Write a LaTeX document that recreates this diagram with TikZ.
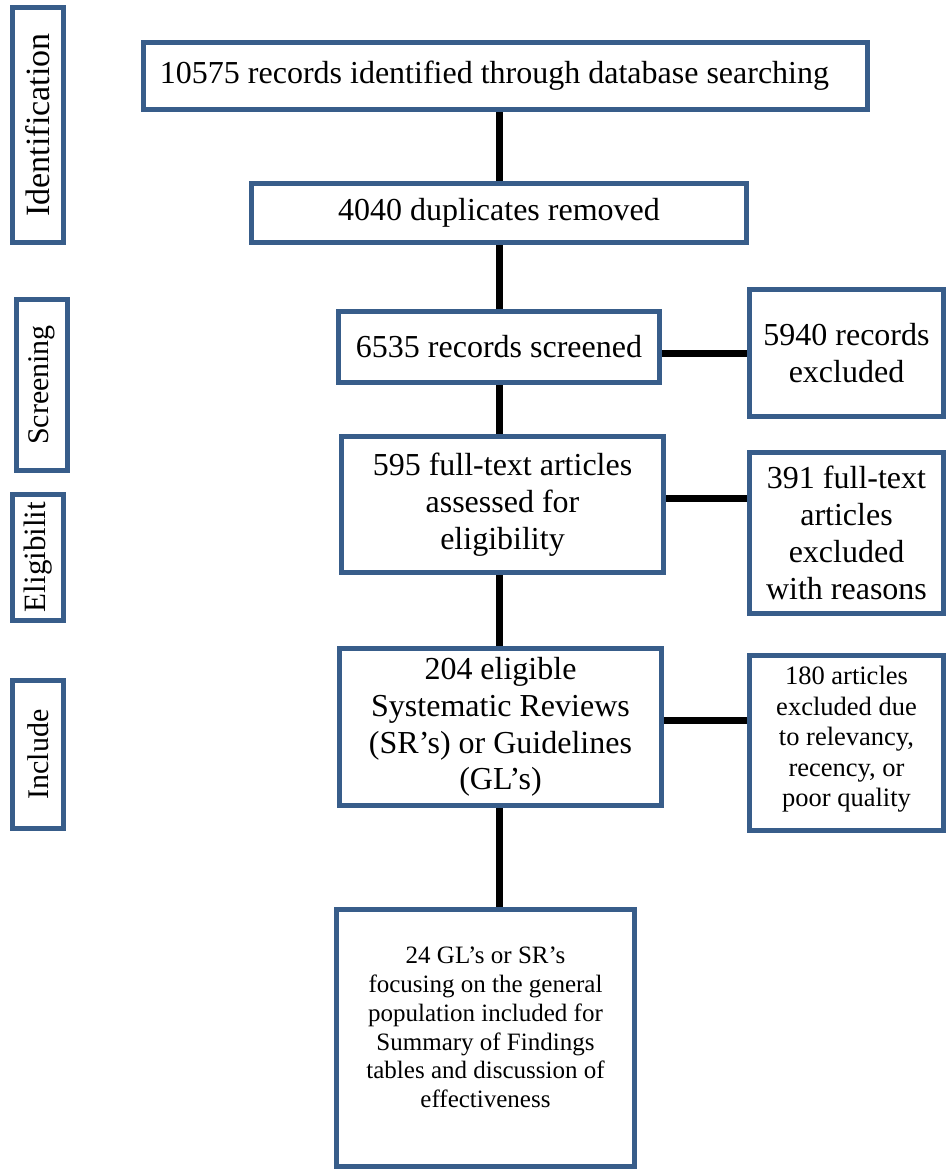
\documentclass[tikz,border=0pt]{standalone}
\usepackage{fontspec}
\setmainfont{Liberation Serif}
\usetikzlibrary{calc}

\definecolor{frameblue}{RGB}{56,93,138}

\begin{document}
\begin{tikzpicture}[x=1pt,y=-1pt,
    box/.style={draw=frameblue,line width=5pt,fill=white,inner sep=0pt,
      align=center,font=\fontsize{32}{36.8}\selectfont},
    stage/.style={box,font=\fontsize{30}{34.5}\selectfont},
    link/.style={draw=black,line width=7pt}]
  %\draw (0, 0) grid (946, 1169);
  \useasboundingbox (0,0) rectangle (946,1169);

  % stages on the left
  \node[stage,minimum width=51,minimum height=235,font=\fontsize{34}{39}\selectfont]
    (ident) at (38,125) {\rotatebox{90}{Identification}};
  \node[stage,minimum width=51,minimum height=171] (screen) at (42,385) {\rotatebox{90}{Screening}};
  \node[stage,minimum width=51,minimum height=126,font=\fontsize{31}{35}\selectfont]
    (elig) at (38,557) {\rotatebox{90}{Eligibilit}};
  \node[stage,minimum width=51,minimum height=148] (incl) at (38,754.5) {\rotatebox{90}{Include}};

  % main column
  \node[box,minimum width=724,minimum height=67] (rec) at (505.5,76)
    {10575 records identified through database searching\hspace{22pt}};
  \node[box,minimum width=495,minimum height=59] (dup) at (499,213) {4040 duplicates removed};
  \node[box,minimum width=321,minimum height=71] (scr) at (499,347) {6535 records screened};
  \node[box,minimum width=322,minimum height=136] (full) at (502.5,504.5)
    {595 full-text articles\\assessed for\\eligibility};
  \node[box,minimum width=322,minimum height=157] (elg) at (500.5,727)
    {204 eligible\\Systematic Reviews\\(SR’s) or Guidelines\\(GL’s)};
  \node[box,minimum width=298,minimum height=257,font=\fontsize{25}{28.75}\selectfont]
    (fin) at (485.5,1038)
    {24 GL’s or SR’s\\focusing on the general\\population included for\\Summary of Findings\\tables and discussion of\\effectiveness\\[-7.75pt]};

  % exclusions on the right
  \node[box,minimum width=194,minimum height=127] (exc1) at (846.5,353)
    {5940 records\\excluded};
  \node[box,minimum width=194,minimum height=161] (exc2) at (846.5,533)
    {391 full-text\\articles\\excluded\\with reasons};
  \node[box,minimum width=194,minimum height=175,font=\fontsize{26.5}{30.5}\selectfont]
    (exc3) at (846.5,743)
    {180 articles\\excluded due\\to relevancy,\\recency, or\\poor quality\\[-18pt]};

  % connectors
  \draw[link] (dup.north) -- (dup.north |- rec.south);
  \draw[link] (scr.north) -- (scr.north |- dup.south);
  \draw[link] (scr.south) -- (scr.south |- full.north);
  \draw[link] (scr.south |- full.south) -- (scr.south |- elg.north);
  \draw[link] (scr.south |- elg.south) -- (scr.south |- fin.north);

  \draw[link] (exc1.west) -- (exc1.west -| scr.east);
  \draw[link] ([yshift=6.5pt]full.east) -- ([yshift=6.5pt]full.east -| exc2.west);
  \draw[link] ([yshift=7pt]elg.east) -- ([yshift=7pt]elg.east -| exc3.west);

\end{tikzpicture}
\end{document}
